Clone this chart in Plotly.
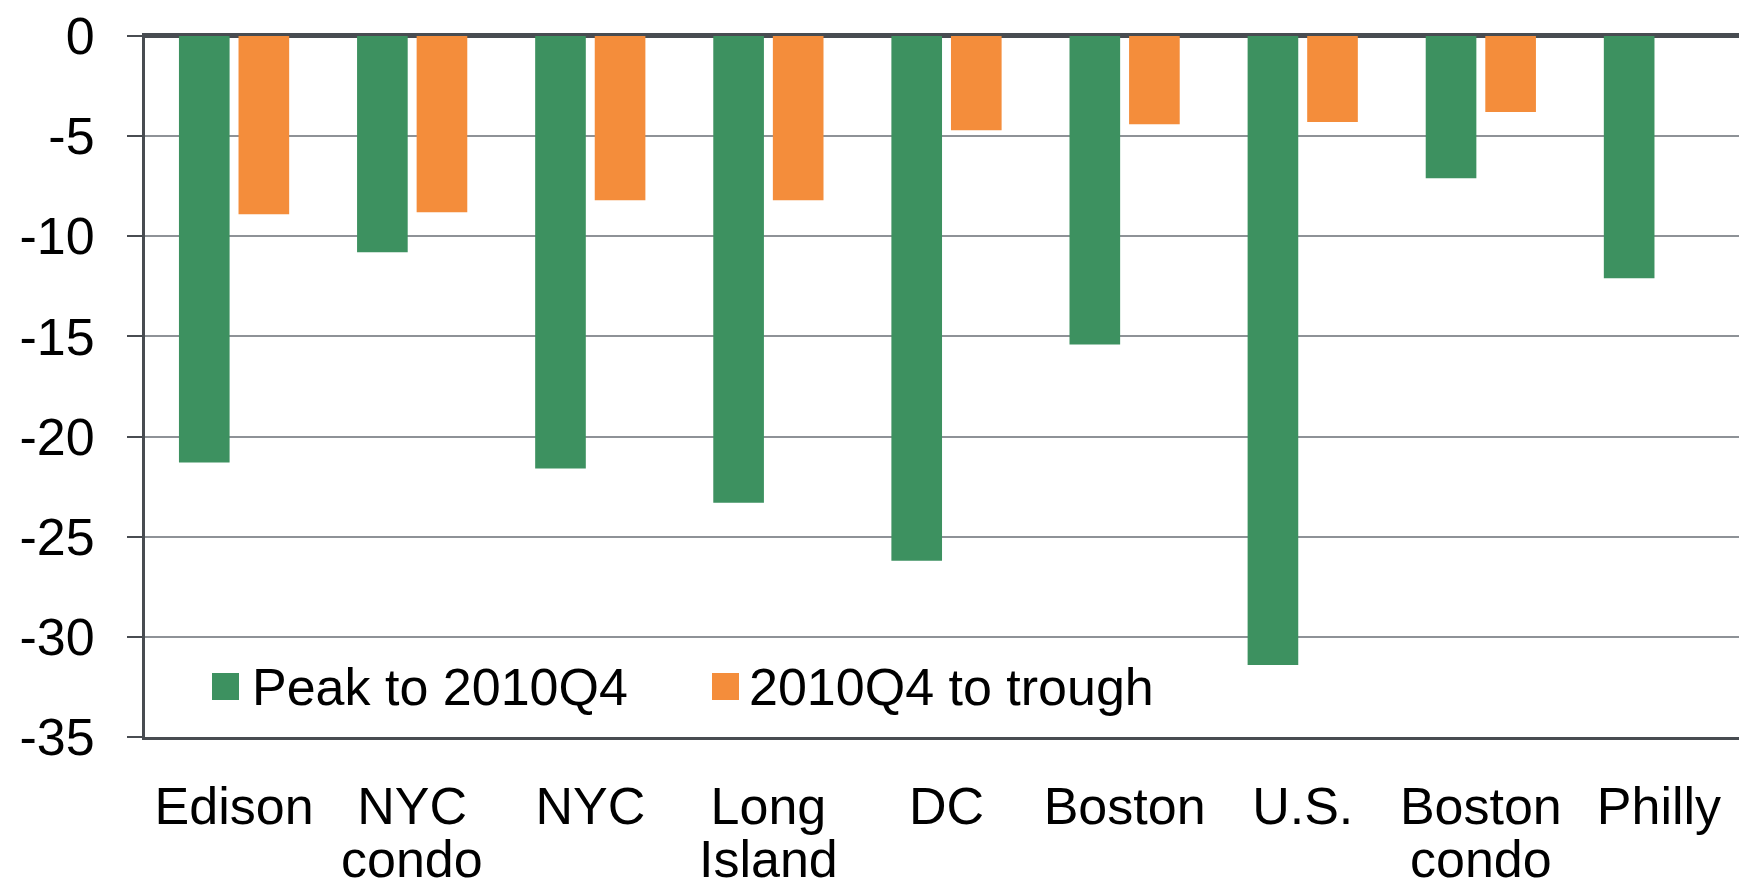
import plotly.graph_objects as go

categories = ["Edison", "NYC<br>condo", "NYC", "Long<br>Island", "DC", "Boston", "U.S.", "Boston<br>condo", "Philly"]
peak_to_2010q4 = [-21.3, -10.8, -21.6, -23.3, -26.2, -15.4, -31.4, -7.1, -12.1]
q4_to_trough = [-8.9, -8.8, -8.2, -8.2, -4.7, -4.4, -4.3, -3.8, None]
series_names = ["Peak to 2010Q4", "2010Q4 to trough"]
y_ticks = [0, -5, -10, -15, -20, -25, -30, -35]

GREEN = "#3d9160"
ORANGE = "#f48d3b"
AXIS = "#484c51"
GRID = "#8e9297"
FONT = "Liberation Sans, Arial, sans-serif"
FS = 52

W, H = 1747, 889
L, R, T, B = 137, 7, 28, 160
pw, ph = W - L - R, H - T - B

first_lines = [c.split("<br>")[0] for c in categories]
second_lines = [c.split("<br>")[1] if "<br>" in c else "" for c in categories]

fig = go.Figure()
fig.add_trace(go.Bar(x=categories, y=peak_to_2010q4, name=series_names[0],
                     marker=dict(color=GREEN, line=dict(width=0)), showlegend=False))
fig.add_trace(go.Bar(x=categories, y=q4_to_trough, name=series_names[1],
                     marker=dict(color=ORANGE, line=dict(width=0)), showlegend=False))

# second line of two-line category labels (tighter line spacing than plotly's tick labels)
for cat, second in zip(categories, second_lines):
    if second:
        fig.add_annotation(x=cat, xref="x", y=0, yref="paper", text=second,
                           showarrow=False, yanchor="top", yshift=-91,
                           font=dict(size=FS, family=FONT, color="black"))

# custom legend (large square swatches)
def px_x(p):
    return (p - L) / pw

def px_y(p):
    return (H - B - p) / ph

legend_items = [(series_names[0], GREEN, 204, 242), (series_names[1], ORANGE, 704, 739)]
for name, col, sx, tx in legend_items:
    fig.add_shape(type="rect", xref="paper", yref="paper",
                  x0=px_x(sx), x1=px_x(sx + 27), y0=px_y(692), y1=px_y(665),
                  fillcolor=col, line=dict(width=0))
    fig.add_annotation(x=px_x(tx), y=px_y(679), xref="paper", yref="paper",
                       text=name, showarrow=False, xanchor="left", yanchor="middle",
                       font=dict(size=FS, family=FONT, color="black"))

fig.update_layout(
    width=W, height=H,
    margin=dict(l=L, r=R, t=T, b=B),
    paper_bgcolor="white", plot_bgcolor="white",
    barmode="group", bargap=0.331, bargroupgap=0.15,
    font=dict(family=FONT, color="black", size=FS),
    showlegend=False,
)
fig.update_xaxes(showline=True, linecolor=AXIS, linewidth=3, mirror=True,
                 tickvals=categories, ticktext=first_lines,
                 ticks="", tickfont=dict(size=FS, family=FONT), ticklabelstandoff=22,
                 showgrid=False, automargin=False)
fig.update_yaxes(range=[-35, 0], tickvals=y_ticks, ticktext=[str(v) for v in y_ticks],
                 showline=True, linecolor=AXIS, linewidth=3, mirror=True,
                 ticks="outside", ticklen=15, tickwidth=2, tickcolor=AXIS,
                 showgrid=True, gridcolor=GRID, gridwidth=2,
                 zeroline=True, zerolinecolor=AXIS, zerolinewidth=3,
                 tickfont=dict(size=FS, family=FONT), ticklabelstandoff=22,
                 ticklabeloverflow="allow", automargin=False)

fig.write_html("out.html")
